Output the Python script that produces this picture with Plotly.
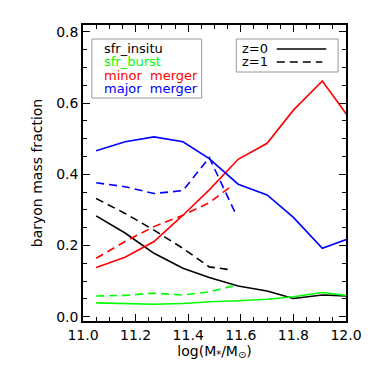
import plotly.graph_objects as go

# data
x_z0 = [11.05, 11.16, 11.27, 11.38, 11.48, 11.59, 11.70, 11.80, 11.91, 12.02]
insitu_z0 = [0.283, 0.235, 0.178, 0.136, 0.110, 0.086, 0.072, 0.051, 0.061, 0.058]
burst_z0 = [0.039, 0.036, 0.035, 0.037, 0.042, 0.045, 0.049, 0.056, 0.068, 0.058]
minor_z0 = [0.138, 0.167, 0.211, 0.285, 0.356, 0.442, 0.487, 0.580, 0.662, 0.550]
major_z0 = [0.466, 0.491, 0.505, 0.491, 0.444, 0.372, 0.342, 0.279, 0.192, 0.222]

x_z1 = [11.05, 11.16, 11.27, 11.38, 11.48, 11.56]
insitu_z1 = [0.332, 0.290, 0.243, 0.192, 0.140, 0.133]
burst_z1 = [0.058, 0.060, 0.066, 0.061, 0.070, 0.088]
minor_z1 = [0.164, 0.211, 0.253, 0.285, 0.320, 0.370]
major_z1 = [0.376, 0.365, 0.346, 0.354, 0.447, 0.290]
x_z1_last = [11.55, 11.58, 11.57, 11.58]  # per-series last x (insitu, burst, minor, major)

names = ["sfr_insitu", "sfr_burst", "minor  merger", "major  merger"]
colors = ["#000000", "#00ff00", "#ff0000", "#0000ff"]
z_labels = ["z=0", "z=1"]

fig = go.Figure()
z0 = [insitu_z0, burst_z0, minor_z0, major_z0]
z1 = [insitu_z1, burst_z1, minor_z1, major_z1]
for i in range(4):
    fig.add_trace(go.Scatter(x=x_z0, y=z0[i], mode="lines",
                             line=dict(color=colors[i], width=1.6), showlegend=False))
    xs = x_z1[:-1] + [x_z1_last[i]]
    fig.add_trace(go.Scatter(x=xs, y=z1[i], mode="lines",
                             line=dict(color=colors[i], width=1.6, dash="8px,5px"),
                             showlegend=False))

font = dict(family="DejaVu Sans, Arial", size=14, color="#000000")

axis_common = dict(showline=True, linecolor="black", linewidth=1.5, mirror="ticks",
                   ticks="inside", ticklen=7, tickwidth=1, tickcolor="black",
                   showgrid=False, zeroline=False, tickfont=font)

fig.update_xaxes(range=[11.0, 12.0], tickvals=[11.0, 11.2, 11.4, 11.6, 11.8, 12.0],
                 ticktext=["11.0", "11.2", "11.4", "11.6", "11.8", "12.0"],
                 minor=dict(dtick=0.05, ticks="inside", ticklen=4, tickcolor="black", showgrid=False),
                 title=dict(text="log(M<sub>*</sub>/M<sub>⊙</sub>)", font=font, standoff=4),
                 **axis_common)
fig.update_yaxes(range=[-0.012, 0.819], tickvals=[0.0, 0.2, 0.4, 0.6, 0.8],
                 ticktext=["0.0", "0.2", "0.4", "0.6", "0.8"],
                 minor=dict(dtick=0.05, ticks="inside", ticklen=4, tickcolor="black", showgrid=False),
                 title=dict(text="baryon mass fraction", font=font, standoff=10),
                 **axis_common)

# page -> paper coordinate helpers (plot area spans x 83..349, y 25..321 on the page)
def px2paper_x(px):
    return (px - 83) / (349 - 83)

def px2paper_y(py):
    return (321 - py) / (321 - 25)

shapes = []
shapes.append(dict(type="rect", xref="paper", yref="paper",
                   x0=px2paper_x(92), x1=px2paper_x(203), y0=px2paper_y(98), y1=px2paper_y(39),
                   line=dict(color="#999999", width=1)))
shapes.append(dict(type="rect", xref="paper", yref="paper",
                   x0=px2paper_x(238), x1=px2paper_x(341), y0=px2paper_y(72), y1=px2paper_y(39),
                   line=dict(color="#999999", width=1)))
shapes.append(dict(type="line", xref="paper", yref="paper",
                   x0=px2paper_x(279), x1=px2paper_x(329), y0=px2paper_y(49), y1=px2paper_y(49),
                   line=dict(color="black", width=1.6)))
shapes.append(dict(type="line", xref="paper", yref="paper",
                   x0=px2paper_x(279), x1=px2paper_x(325), y0=px2paper_y(62), y1=px2paper_y(62),
                   line=dict(color="black", width=1.6, dash="8px,5px")))

annotations = []
for i, nm in enumerate(names):
    annotations.append(dict(text=nm, xref="paper", yref="paper",
                            x=px2paper_x(102), y=px2paper_y(48.5 + 13.3 * i),
                            xanchor="left", yanchor="middle", showarrow=False,
                            font=dict(family="DejaVu Sans, Arial", size=13, color=colors[i])))
for i, t in enumerate(z_labels):
    annotations.append(dict(text=t, xref="paper", yref="paper",
                            x=px2paper_x(242), y=px2paper_y(48.5 + 13.3 * i),
                            xanchor="left", yanchor="middle", showarrow=False,
                            font=dict(family="DejaVu Sans, Arial", size=13, color="black")))

# page body has an 8px margin, so the figure is 366 wide/high and margins are shifted
fig.update_layout(width=366, height=366, margin=dict(l=75, r=25, t=17, b=53),
                  paper_bgcolor="white", plot_bgcolor="white",
                  shapes=shapes, annotations=annotations, showlegend=False)

fig.write_html("out.html")
